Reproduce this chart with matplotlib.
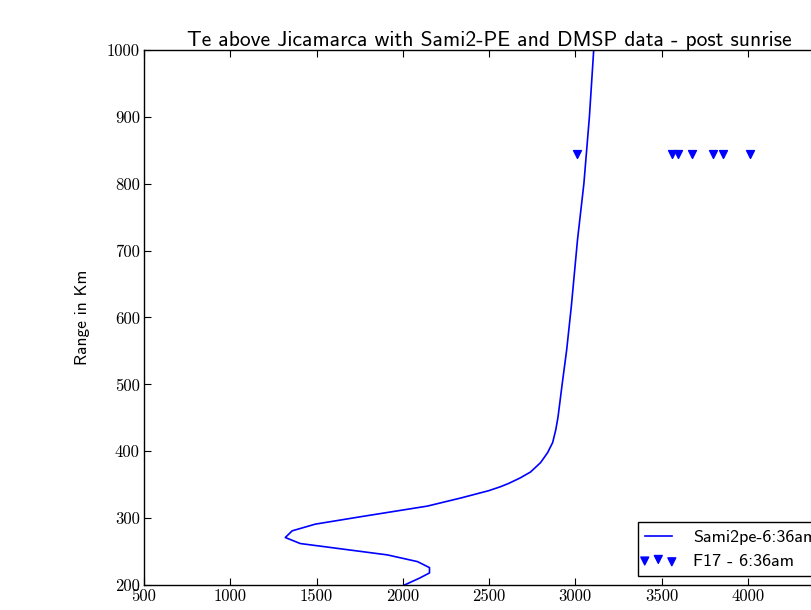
import matplotlib
matplotlib.use('Agg')
import matplotlib.pyplot as plt
from matplotlib.legend_handler import HandlerPathCollection

# Sami2-PE electron temperature profile (K) vs altitude (km)
alt_km = [200, 210, 218, 226, 235, 245, 262, 271, 281, 291, 302, 318, 330,
          341, 347, 352, 360, 369, 383, 398, 413, 432, 451, 502, 551, 616,
          716, 800, 900, 1000]
te_sami = [2010, 2095, 2155, 2155, 2085, 1911, 1406, 1319, 1359, 1493, 1754,
           2143, 2335, 2498, 2567, 2615, 2680, 2741, 2799, 2840, 2869, 2887,
           2900, 2925, 2950, 2977, 3013, 3050, 3082, 3107]

# DMSP F17 Te samples at satellite altitude
f17_te = [3012, 3558, 3596, 3676, 3796, 3854, 4013]
f17_alt = [845, 845, 845, 845, 845, 845, 845]

fig = plt.figure(figsize=(8.12, 6.10), dpi=100)
ax = fig.add_axes([144 / 812, 25 / 610, 690 / 812, 535 / 610])

ax.plot(te_sami, alt_km, color='b', lw=1.2, label='Sami2pe-6:36am')
sc = ax.scatter(f17_te, f17_alt, marker='v', s=32, color='b',
                label='F17 - 6:36am')

ax.set_xlim(500, 4500)
ax.set_ylim(200, 1000)
ax.set_xticks(range(500, 4501, 500))
ax.set_yticks(range(200, 1001, 100))

ax.tick_params(direction='in', top=True, right=True, length=5, width=0.8,
               labelsize=12, pad=3)
for lab in ax.get_xticklabels() + ax.get_yticklabels():
    lab.set_family('cmr10')
for sp in ax.spines.values():
    sp.set_linewidth(1.0)

ax.set_title('Te above Jicamarca with Sami2-PE and DMSP data - post sunrise',
             family='cmss10', fontsize=15.5, pad=3)
ax.set_ylabel('Range in Km', family='cmss10', fontsize=12.5, labelpad=12)

leg = ax.legend(loc='lower right', scatterpoints=3, fancybox=False,
                framealpha=1, edgecolor='black',
                prop={'family': 'cmss10', 'size': 13},
                borderaxespad=0.5, borderpad=0.4, handlelength=1.5,
                handletextpad=1.2, labelspacing=0.45,
                handler_map={sc: HandlerPathCollection(marker_pad=0)})
leg.get_frame().set_linewidth(1.0)

fig.savefig('out.png', dpi=100)
